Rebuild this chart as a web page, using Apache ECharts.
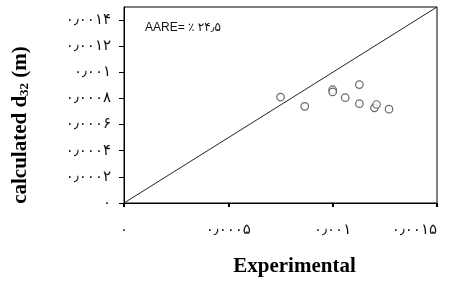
<!DOCTYPE html>
<html>
<head>
<meta charset="utf-8">
<script src="https://cdn.jsdelivr.net/npm/echarts@6/dist/echarts.min.js"></script>
<style>
  html, body { margin: 0; padding: 0; background: #fff; }
  #chart { width: 451px; height: 282px; }
</style>
</head>
<body>
<div id="chart"></div>
<script>
// measured vs calculated d32 (m)
const experimental = [0.00075, 0.000866, 0.001, 0.001, 0.001128, 0.00106, 0.001128, 0.0012, 0.00121, 0.00127];
const calculated = [0.000811, 0.00074, 0.000867, 0.00085, 0.000906, 0.000806, 0.00076, 0.000728, 0.000754, 0.000718];
const xTicks = [0, 0.0005, 0.001, 0.0015];
const yTicks = [0, 0.0002, 0.0004, 0.0006, 0.0008, 0.001, 0.0012, 0.0014];
const parity = [0, 0.0015];
const aareText = 'AARE= ٪ ۲۴٫۵';

const persianDigits = '۰۱۲۳۴۵۶۷۸۹';
const toPersian = (v) => {
  const s = String(+v.toFixed(6));
  return s.replace(/[0-9]/g, (d) => persianDigits[+d]).replace('.', '٫');
};

const chartDom = document.getElementById('chart');
const chart = echarts.init(chartDom);

const labelFont = "'DejaVu Sans', sans-serif";
const nameFont = "'Liberation Serif', 'Times New Roman', serif";

const option = {
  animation: false,
  backgroundColor: '#fff',
  grid: {
    left: 124, right: 14, top: 7, bottom: 70,
    show: true, borderColor: '#000', borderWidth: 1, backgroundColor: 'transparent'
  },
  title: {
    text: aareText,
    left: 140, top: 17,
    textStyle: { fontSize: 12, fontWeight: 'normal', color: '#111', fontFamily: "'Liberation Sans', 'DejaVu Sans', sans-serif" }
  },
  xAxis: {
    type: 'value',
    min: 0, max: 0.0015, interval: 0.0005,
    name: 'Experimental',
    nameLocation: 'middle',
    nameGap: 53,
    nameTextStyle: { fontSize: 21, fontWeight: 'bold', color: '#000', fontFamily: nameFont, padding: [0, 0, 0, 28] },
    axisLine: { show: true, lineStyle: { color: '#000', width: 1 } },
    axisTick: { show: true, length: 4, lineStyle: { color: '#000', width: 2 } },
    axisLabel: {
      margin: 20, fontSize: 15, color: '#111', fontFamily: labelFont,
      formatter: (v) => toPersian(v),
      customValues: xTicks,
      alignMaxLabel: 'right'
    },
    splitLine: { show: false }
  },
  yAxis: {
    type: 'value',
    min: 0, max: 0.0015,
    name: 'calculated d{sub|32} (m)',
    nameLocation: 'middle',
    nameGap: 93,
    nameTextStyle: {
      fontSize: 21, fontWeight: 'bold', color: '#000', fontFamily: nameFont,
      padding: [0, 40, 0, 0],
      rich: {
        sub: { fontSize: 13, fontWeight: 'bold', fontFamily: nameFont, verticalAlign: 'bottom', padding: [8, 0, 0, 0] }
      }
    },
    axisLine: { show: true, lineStyle: { color: '#000', width: 1 } },
    axisTick: { show: true, length: 5, lineStyle: { color: '#000', width: 1 }, customValues: yTicks },
    axisLabel: {
      margin: 13, fontSize: 15, color: '#111', fontFamily: labelFont,
      formatter: (v) => toPersian(v),
      customValues: yTicks
    },
    splitLine: { show: false }
  },
  series: [
    {
      type: 'line',
      data: parity.map((v) => [v, v]),
      symbol: 'none',
      lineStyle: { color: '#222', width: 1 },
      silent: true
    },
    {
      type: 'scatter',
      data: experimental.map((x, i) => [x, calculated[i]]),
      symbol: 'circle',
      symbolSize: 7.5,
      itemStyle: { color: '#fff', borderColor: '#444', borderWidth: 1.2 }
    }
  ]
};

chart.setOption(option);
</script>
</body>
</html>
